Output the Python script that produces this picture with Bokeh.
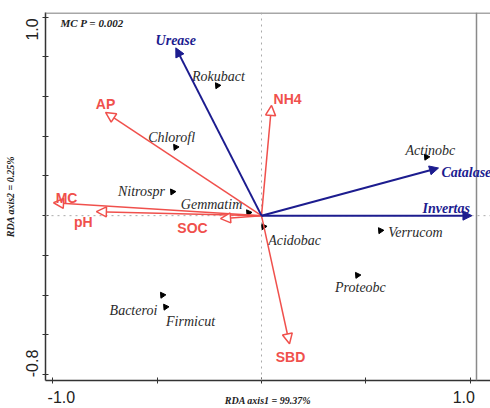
from bokeh.plotting import figure
from bokeh.models import (ColumnDataSource, Arrow, NormalHead, Span, Label,
                          FixedTicker, Range1d)
from bokeh.core.properties import value
from bokeh.embed import file_html
from bokeh.resources import INLINE

# ---- data ----
enz_names = ["Urease", "Catalase", "Invertas"]
enz_x = [-0.41, 0.847, 1.007]
enz_y = [0.845, 0.24, 0.0]

soil_names = ["NH4", "AP", "MC", "pH", "SOC", "SBD"]
soil_x = [0.048, -0.746, -0.995, -0.790, -0.196, 0.134]
soil_y = [0.555, 0.52, 0.065, 0.02, -0.015, -0.645]

sp_names = ["Rokubact", "Chlorofl", "Nitrospr", "Gemmatim", "Acidobac",
            "Verrucom", "Proteobc", "Actinobc", "Bacteroi", "Firmicut"]
sp_x = [-0.211, -0.411, -0.426, -0.062, 0.010, 0.569, 0.459, 0.789, -0.474, -0.459]
sp_y = [0.655, 0.345, 0.12, 0.015, -0.055, -0.075, -0.30, 0.295, -0.40, -0.46]

x_ticks = [-1.0, -0.5, 0.0, 0.5, 1.0]
x_tick_labels = {-1.0: "-1.0", 1.0: "1.0"}
y_ticks = [-0.8, -0.6, -0.4, -0.2, 0.0, 0.2, 0.4, 0.6, 0.8, 1.0]
y_tick_labels = {-0.8: "-0.8", 1.0: "1.0"}

x_title = "RDA axis1 = 99.37%"
y_title = "RDA axis2 = 0.25%"
stat_text = "MC P = 0.002"

# plot box limits (frame drawn as border lines)
box_right = 1.0287
box_top = 1.02

# ---- label offsets (screen px; +y = down) ----
enz_off = [(0, -7, "center"), (3, 4, "left"), (-2, -7, "right")]
soil_off = [(2, -6, "left"), (0, -8, "center"), (13, -5, "center"),
            (-13, 10, "center"), (-28, 9, "center"), (1, 13, "center")]
sp_off = [(1, -9), (-4, -10), (-31, 0), (-37, -8), (31, 14),
          (35, 2), (3, 12), (4, -7), (-29, 15), (25, 14)]
# end labels are nudged inward (as in the original R-style plot) with padding
NB = "\u00a0"
x_pad = {-1.0: (4, 0), 1.0: (0, 3)}
y_pad = {-0.8: (5, 0), 1.0: (0, 4)}

BLUE = "#1c1c8f"
RED = "#f0504c"

p = figure(width=490, height=408, output_backend="svg", toolbar_location=None,
           x_range=Range1d(-1.0335, 1.0957), y_range=Range1d(-0.83, 1.023),
           min_border_left=45, min_border_right=0, min_border_top=12,
           min_border_bottom=26)
p.grid.visible = False
p.outline_line_color = None

for ax in (p.xaxis[0], p.yaxis[0]):
    ax.axis_line_color = "#333333"
    ax.axis_line_width = 1.5
    ax.major_tick_line_color = "#333333"
    ax.major_tick_in = 3
    ax.major_tick_out = 3
    ax.minor_tick_line_color = None
    ax.major_label_text_font = "Liberation Sans"
    ax.major_label_text_font_size = "16px"
    ax.major_label_text_color = "#222222"
    ax.axis_label_text_font = "Liberation Serif"
    ax.axis_label_text_font_style = "bold italic"
    ax.axis_label_text_font_size = "10px"
    ax.axis_label_text_color = "#222222"

p.xaxis.major_label_standoff = 5
p.yaxis.major_label_standoff = 1


def pad(lbl, n):
    return NB * n[0] + lbl + NB * n[1]


p.xaxis.ticker = FixedTicker(ticks=x_ticks)
p.xaxis.major_label_overrides = {
    t: (pad(x_tick_labels[t], x_pad[t]) if t in x_tick_labels else "") for t in x_ticks}
p.yaxis.ticker = FixedTicker(ticks=y_ticks)
p.yaxis.major_label_overrides = {
    t: (pad(y_tick_labels[t], y_pad[t]) if t in y_tick_labels else "") for t in y_ticks}
p.yaxis.major_label_orientation = "vertical"
p.xaxis.axis_label = x_title
p.xaxis.axis_label_standoff = -14
p.yaxis.axis_label = y_title
p.yaxis.axis_label_standoff = 6

# box border (top/right) and zero lines
p.add_layout(Span(location=box_right, dimension="height", line_color="#8a8a8a",
                  line_width=1.5))
p.add_layout(Span(location=box_top, dimension="width", line_color="#8a8a8a",
                  line_width=1.5))
p.add_layout(Span(location=0, dimension="height", line_color="#aaaaaa",
                  line_dash="dotted", line_width=1))
p.add_layout(Span(location=0, dimension="width", line_color="#aaaaaa",
                  line_dash="dotted", line_width=1))

# species markers and labels
sp_src = ColumnDataSource(dict(x=sp_x, y=sp_y, name=sp_names,
                               dx=[o[0] for o in sp_off],
                               dy=[o[1] for o in sp_off]))
p.scatter("x", "y", source=sp_src, marker="triangle", size=6, angle=0.6,
          fill_color="black", line_color="black")
p.text("x", "y", text="name", source=sp_src, x_offset="dx", y_offset="dy",
       text_font=value("Liberation Serif"), text_font_style="italic",
       text_font_size="14px", text_color="#2a2a2a", text_align="center",
       text_baseline="middle")

# soil property arrows (red, open heads)
soil_src = ColumnDataSource(dict(x0=[0.0] * len(soil_x), y0=[0.0] * len(soil_y),
                                 x1=soil_x, y1=soil_y))
p.add_layout(Arrow(source=soil_src, x_start="x0", y_start="y0", x_end="x1",
                   y_end="y1", line_color=RED, line_width=1.5,
                   end=NormalHead(size=10, fill_color="white", line_color=RED,
                                  line_width=1.5)))
# enzyme arrows (blue, filled heads)
enz_src = ColumnDataSource(dict(x0=[0.0] * len(enz_x), y0=[0.0] * len(enz_y),
                                x1=enz_x, y1=enz_y))
p.add_layout(Arrow(source=enz_src, x_start="x0", y_start="y0", x_end="x1",
                   y_end="y1", line_color=BLUE, line_width=2,
                   end=NormalHead(size=9, fill_color=BLUE, line_color=BLUE)))

for n, x, y, (dx, dy, al) in zip(soil_names, soil_x, soil_y, soil_off):
    p.add_layout(Label(x=x, y=y, text=n, x_offset=dx, y_offset=-dy,
                       text_font="Liberation Sans", text_font_style="bold",
                       text_font_size="14px", text_color=RED, text_align=al,
                       text_baseline="middle"))
for n, x, y, (dx, dy, al) in zip(enz_names, enz_x, enz_y, enz_off):
    p.add_layout(Label(x=x, y=y, text=n, x_offset=dx, y_offset=-dy,
                       text_font="Liberation Serif", text_font_style="bold italic",
                       text_font_size="14px", text_color=BLUE, text_align=al,
                       text_baseline="middle"))

p.add_layout(Label(x=-0.962, y=0.97, text=stat_text,
                   text_font="Liberation Serif", text_font_style="bold italic",
                   text_font_size="11px", text_color="#222222",
                   text_baseline="middle"))

open("out.html", "w").write(file_html(p, INLINE))
